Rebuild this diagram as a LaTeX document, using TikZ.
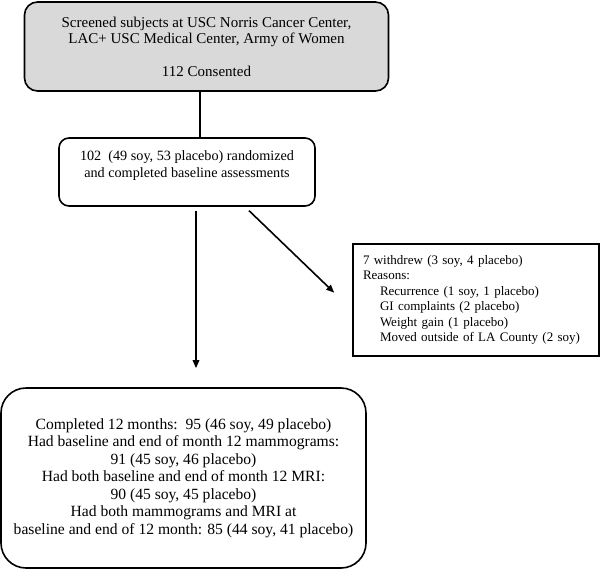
\documentclass[tikz,border=0pt]{standalone}
\usepackage{fontspec}
\setmainfont{Liberation Serif}
\usetikzlibrary{arrows.meta}

\begin{document}
\begin{tikzpicture}[x=1pt,y=-1pt,
    box/.style={draw,line width=1.6pt,rounded corners=#1,align=center},
    arr/.style={line width=1.6pt,-{Triangle[length=8pt,width=6.5pt]}}]
  \useasboundingbox (0,0) rectangle (600,570);

  \node[box=13pt,fill=black!15,minimum width=364pt,minimum height=89pt,
    font=\fontsize{15}{16}\selectfont] (screen) at (206.5,46.5)
    {Screened subjects at USC Norris Cancer Center,\\
     LAC+ USC Medical Center, Army of Women\\[17pt]
     112 Consented};

  \node[box=10pt,minimum width=256pt,minimum height=68pt,
    font=\fontsize{14.2}{17}\selectfont] (rand) at (187,172)
    {102~~(49 soy, 53 placebo) randomized\\
     and completed baseline assessments\rule[-16pt]{0pt}{0pt}};

  \node[box=0pt,align=left,text width=226pt,inner xsep=10pt,minimum height=112pt,
    font=\fontsize{13}{15.5}\selectfont] (withdrew) at (476,300)
    {7 withdrew (3 soy, 4 placebo)\\
     Reasons:\\
     \hspace*{17pt}Recurrence (1 soy, 1 placebo)\\
     \hspace*{17pt}GI complaints (2 placebo)\\
     \hspace*{17pt}Weight gain (1 placebo)\\
     \hspace*{17pt}Moved outside of LA County (2 soy)};

  \node[box=25pt,minimum width=365pt,minimum height=180pt,
    font=\fontsize{15.6}{17.5}\selectfont] (done) at (183.5,478)
    {Completed 12 months:~~95 (46 soy, 49 placebo)\\
     Had baseline and end of month 12 mammograms:\\
     91 (45 soy, 46 placebo)\\
     Had both baseline and end of month 12 MRI:\\
     90 (45 soy, 45 placebo)\\
     Had both mammograms and MRI at\\
     baseline and end of 12 month: 85 (44 soy, 41 placebo)};

  \draw[line width=1.6pt] ([xshift=-6.5pt]screen.south) -- ([xshift=-6.5pt]screen.south |- rand.north);
  \draw[arr,shorten <=4pt,shorten >=19pt] ([xshift=9pt]rand.south) -- ([xshift=9pt]rand.south |- done.north);
  \draw[arr,shorten <=5.5pt,shorten >=25pt] ([xshift=58pt]rand.south) -- ([yshift=-10pt]withdrew.west);
\end{tikzpicture}
\end{document}
